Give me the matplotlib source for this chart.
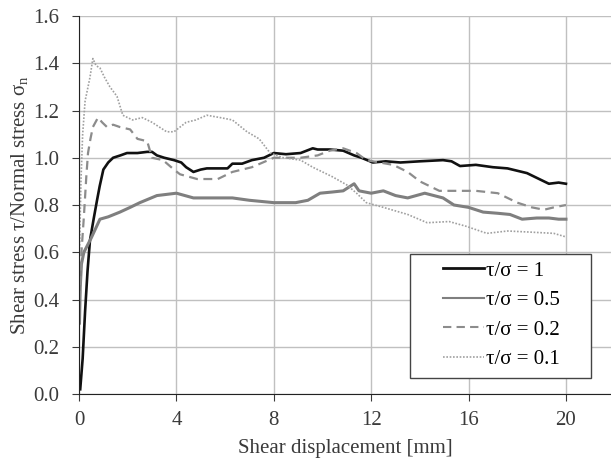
import matplotlib.pyplot as plt
import numpy as np
from matplotlib.patches import Rectangle

plt.rcParams['font.family'] = ['Liberation Serif', 'DejaVu Serif']
plt.rcParams['mathtext.fontset'] = 'custom'
plt.rcParams['mathtext.rm'] = 'Liberation Serif'

# tau/sigma = 1
x1 = [0.05, 0.15, 0.25, 0.35, 0.45, 0.6, 0.74, 0.85, 1.0, 1.2, 1.4, 1.7, 1.97, 2.4, 2.8, 3.0, 3.2,
      3.5, 3.9, 4.2, 4.4, 4.7, 5.0, 5.25, 5.7, 6.1, 6.3, 6.7, 7.1, 7.6, 8.0, 8.5, 9.1, 9.6, 9.8,
      10.3, 10.85, 11.3, 11.6, 12.07, 12.6, 13.2, 14.0, 14.95, 15.3, 15.65, 16.3, 17.0, 17.6, 18.4,
      18.9, 19.3, 19.7, 20.0]
y1 = [0.02, 0.15, 0.35, 0.52, 0.65, 0.74, 0.82, 0.88, 0.95, 0.98, 1.0, 1.01, 1.02, 1.02, 1.025, 1.025, 1.01,
      1.0, 0.99, 0.98, 0.96, 0.94, 0.95, 0.955, 0.955, 0.955, 0.975, 0.975, 0.99, 1.0, 1.02, 1.015, 1.02, 1.04, 1.035,
      1.035, 1.03, 1.01, 1.0, 0.98, 0.985, 0.98, 0.985, 0.99, 0.985, 0.965, 0.97, 0.96, 0.955, 0.935,
      0.91, 0.89, 0.895, 0.89]

# tau/sigma = 0.5
x2 = [0.02, 0.05, 0.1, 0.2, 0.35, 0.5, 0.86, 1.2, 1.68, 2.1, 2.5, 3.2, 3.6, 4.0, 4.7, 5.5, 6.3, 7.0,
      8.0, 8.9, 9.4, 9.9, 10.4, 10.85, 11.3, 11.5, 12.0, 12.5, 13.0, 13.5, 14.2, 14.95, 15.4, 16.0,
      16.6, 17.2, 17.7, 18.2, 18.8, 19.3, 19.7, 20.0]
y2 = [0.3, 0.45, 0.55, 0.6, 0.63, 0.66, 0.74, 0.75, 0.77, 0.79, 0.81, 0.84, 0.845, 0.85, 0.83, 0.83, 0.83, 0.82,
      0.81, 0.81, 0.82, 0.85, 0.855, 0.86, 0.89, 0.86, 0.85, 0.86, 0.84, 0.83, 0.85, 0.83, 0.80, 0.79,
      0.77, 0.765, 0.76, 0.74, 0.745, 0.745, 0.74, 0.74]

# tau/sigma = 0.2
x3 = [0.03, 0.1, 0.2, 0.3, 0.37, 0.47, 0.57, 0.78, 0.95, 1.15, 1.4, 1.68, 2.1, 2.4, 2.8, 3.0, 3.45,
      3.9, 4.15, 4.85, 5.7, 6.3, 7.1, 8.0, 9.1, 9.8, 10.3, 10.85, 11.4, 11.8, 12.9, 13.5, 14.0, 14.8,
      15.5, 16.3, 17.2, 18.0, 18.6, 19.1, 19.5, 20.0]
y3 = [0.4, 0.6, 0.75, 0.92, 1.02, 1.08, 1.13, 1.17, 1.15, 1.13, 1.14, 1.13, 1.12, 1.08, 1.07, 1.0, 0.99,
      0.95, 0.93, 0.91, 0.91, 0.94, 0.96, 1.0, 1.0, 1.01, 1.03, 1.04, 1.02, 0.99, 0.97, 0.94, 0.90, 0.86,
      0.86, 0.86, 0.85, 0.81, 0.79, 0.78, 0.79, 0.80]

# tau/sigma = 0.1
x4 = [0.02, 0.08, 0.15, 0.25, 0.45, 0.57, 0.7, 0.86, 1.05, 1.27, 1.56, 1.8, 2.2, 2.6, 3.0, 3.6, 3.9,
      4.4, 4.8, 5.25, 5.8, 6.3, 6.9, 7.4, 7.85, 8.4, 9.1, 9.6, 10.4, 11.0, 11.4, 11.8, 12.5, 13.5,
      14.3, 15.2, 15.9, 16.75, 17.6, 18.4, 19.5, 20.0]
y4 = [0.6, 0.9, 1.1, 1.24, 1.34, 1.42, 1.39, 1.38, 1.34, 1.30, 1.26, 1.18, 1.16, 1.17, 1.15, 1.11, 1.11,
      1.15, 1.16, 1.18, 1.17, 1.16, 1.11, 1.08, 1.02, 1.0, 0.99, 0.96, 0.92, 0.885, 0.85, 0.81, 0.79, 0.76,
      0.725, 0.73, 0.71, 0.68, 0.69, 0.686, 0.68, 0.665]

labels = ['τ/σ = 1', 'τ/σ = 0.5', 'τ/σ = 0.2', 'τ/σ = 0.1']
yticks = [0.0, 0.2, 0.4, 0.6, 0.8, 1.0, 1.2, 1.4, 1.6]
xticks = [0, 4, 8, 12, 16, 20]

fig = plt.figure(figsize=(6.11, 4.59), dpi=100)
ax = fig.add_axes([0.1293, 0.1416, 0.8707, 0.8235])

ax.plot(x1, y1, color='#111111', lw=1.9, label=labels[0])
ax.plot(x2, y2, color='#7f7f7f', lw=2.2, label=labels[1])
ax.plot(x3, y3, color='#8c8c8c', lw=1.6, ls=(0, (4, 2.5)), label=labels[2])
ax.plot(x4, y4, color='#a0a0a0', lw=1.2, ls=(0, (1, 1)), label=labels[3])

ax.set_xlim(0, 21.85)
ax.set_ylim(0, 1.6)
ax.set_xticks(xticks)
ax.set_yticks(yticks)
ax.set_yticklabels(['%.1f' % v for v in yticks])
ax.grid(True, color='#c0c0c0', lw=1.0)
ax.set_axisbelow(True)
for s in ['top', 'right']:
    ax.spines[s].set_visible(False)
ax.spines['left'].set_color('#222222')
ax.spines['bottom'].set_color('#222222')
ax.tick_params(labelsize=15, colors='#3a3a3a', length=5, direction='out')
ax.tick_params(axis='x', pad=7)
ax.tick_params(axis='y', pad=9)

ax.set_xlabel('Shear displacement [mm]', fontsize=15, color='#3a3a3a', labelpad=7)
ax.set_ylabel(r'Shear stress τ/Normal stress σ$_\mathrm{n}$', fontsize=15, color='#3a3a3a', labelpad=2)

# legend frame
ax.add_patch(Rectangle((0.622, 0.042), 0.34, 0.328, transform=ax.transAxes,
                       facecolor='white', edgecolor='#444444', lw=1.0, zorder=5))
leg = ax.legend(loc='upper left', bbox_to_anchor=(0.684, 0.352), frameon=False,
                fontsize=15, handlelength=1.95, handletextpad=0.1, borderpad=0,
                borderaxespad=0, labelspacing=0.48)
leg.set_zorder(6)
for ln, w in zip(leg.get_lines(), [2.0, 1.5, 1.5, 1.2]):
    ln.set_linewidth(w)

fig.savefig('out.png', dpi=100)
